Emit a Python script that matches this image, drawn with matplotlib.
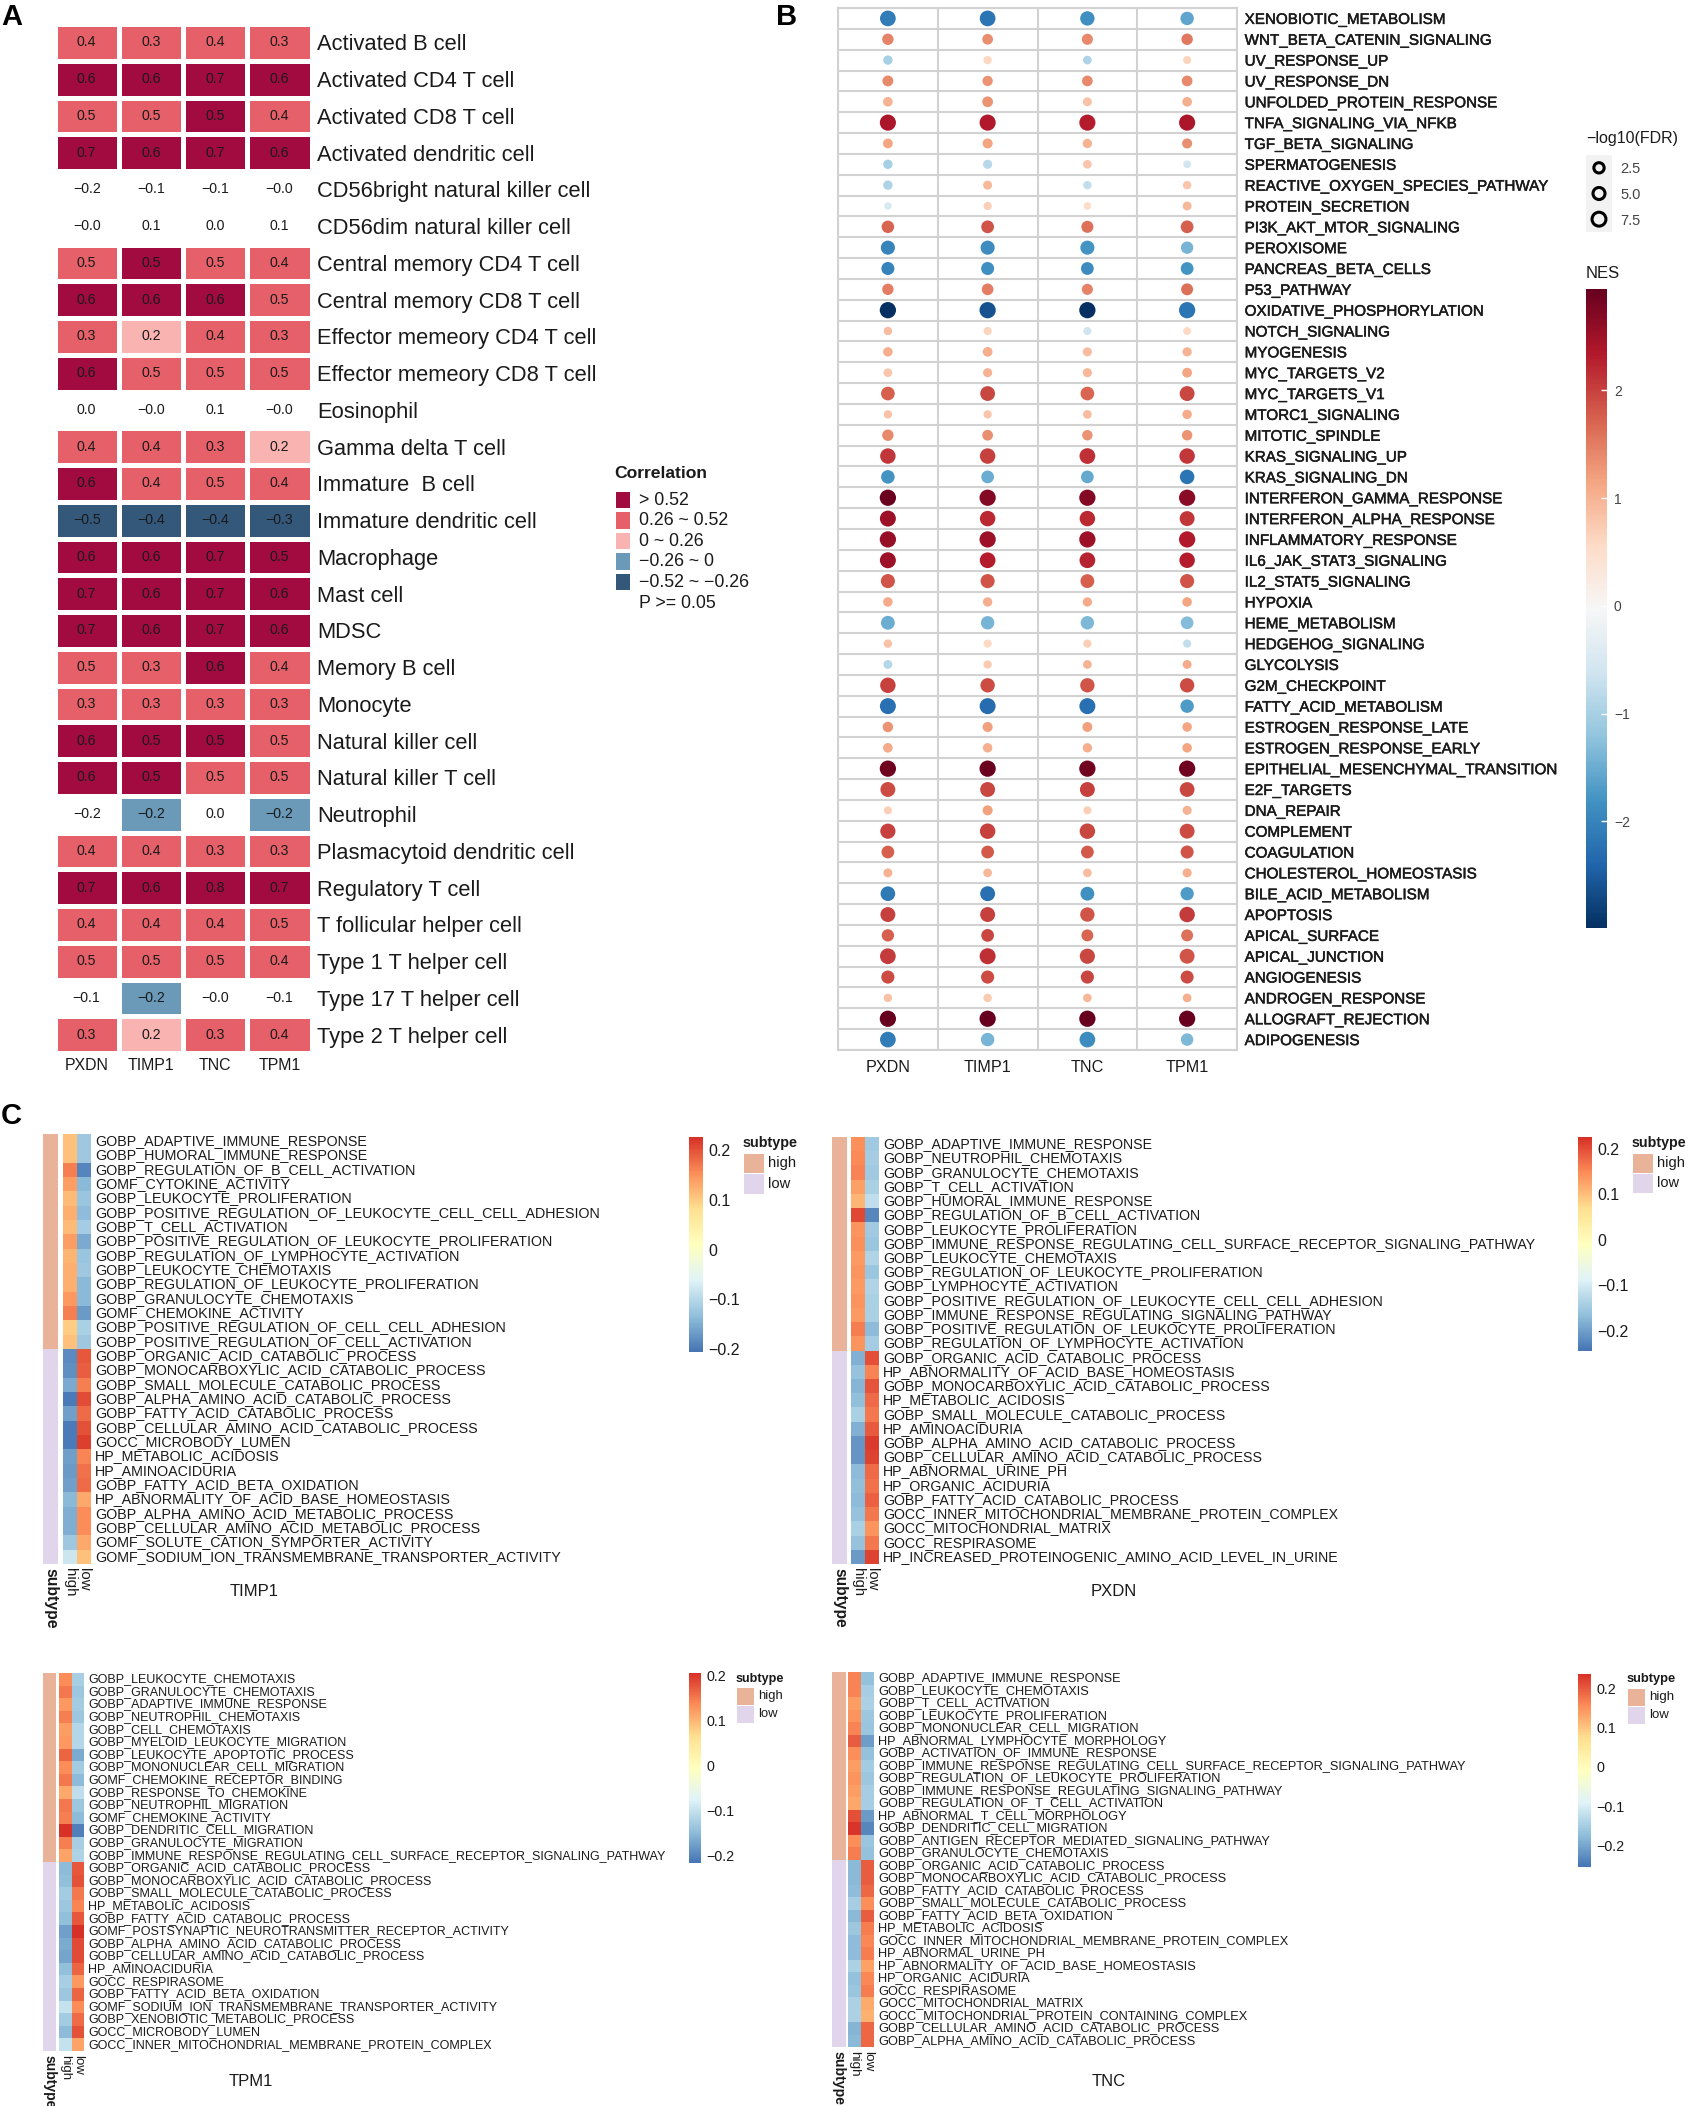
import numpy as np
import matplotlib
matplotlib.use('Agg')
import matplotlib.pyplot as plt
import matplotlib.patheffects as pe
from matplotlib.cm import ScalarMappable
from matplotlib.colors import ListedColormap, LinearSegmentedColormap, Normalize, BoundaryNorm

plt.rcParams['font.family'] = ['Liberation Sans', 'DejaVu Sans']
W, H = 1691, 2106
TEXT = '#1a1a1a'

GENES = ['PXDN', 'TIMP1', 'TNC', 'TPM1']

# ── panel A ──────────────────────────────────────────────────────────────────
CELLS = ['Activated B cell', 'Activated CD4 T cell', 'Activated CD8 T cell', 'Activated dendritic cell',
         'CD56bright natural killer cell', 'CD56dim natural killer cell', 'Central memory CD4 T cell',
         'Central memory CD8 T cell', 'Effector memeory CD4 T cell', 'Effector memeory CD8 T cell',
         'Eosinophil', 'Gamma delta T cell', 'Immature  B cell', 'Immature dendritic cell', 'Macrophage',
         'Mast cell', 'MDSC', 'Memory B cell', 'Monocyte', 'Natural killer cell', 'Natural killer T cell',
         'Neutrophil', 'Plasmacytoid dendritic cell', 'Regulatory T cell', 'T follicular helper cell',
         'Type 1 T helper cell', 'Type 17 T helper cell', 'Type 2 T helper cell']
CORR = [[.4, .3, .4, .3], [.6, .6, .7, .6], [.5, .5, .5, .4], [.7, .6, .7, .6],
        [-.2, -.1, -.1, -0.], [-0., .1, 0., .1], [.5, .5, .5, .4], [.6, .6, .6, .5],
        [.3, .2, .4, .3], [.6, .5, .5, .5], [0., -0., .1, -0.], [.4, .4, .3, .2],
        [.6, .4, .5, .4], [-.5, -.4, -.4, -.3], [.6, .6, .7, .5], [.7, .6, .7, .6],
        [.7, .6, .7, .6], [.5, .3, .6, .4], [.3, .3, .3, .3], [.6, .5, .5, .5],
        [.6, .5, .5, .5], [-.2, -.2, 0., -.2], [.4, .4, .3, .3], [.7, .6, .8, .7],
        [.4, .4, .4, .5], [.5, .5, .5, .4], [-.1, -.2, -0., -.1], [.3, .2, .3, .4]]
# 4 '> 0.52', 3 '0.26 ~ 0.52', 2 '0 ~ 0.26', 1 '-0.26 ~ 0', 0 '-0.52 ~ -0.26', nan P >= 0.05
N = np.nan
CORR_CLASS = [[3, 3, 3, 3], [4, 4, 4, 4], [3, 3, 4, 3], [4, 4, 4, 4],
              [N, N, N, N], [N, N, N, N], [3, 4, 3, 3], [4, 4, 4, 3],
              [3, 2, 3, 3], [4, 3, 3, 3], [N, N, N, N], [3, 3, 3, 2],
              [4, 3, 3, 3], [0, 0, 0, 0], [4, 4, 4, 4], [4, 4, 4, 4],
              [4, 4, 4, 4], [3, 3, 4, 3], [3, 3, 3, 3], [4, 4, 4, 3],
              [4, 4, 3, 3], [N, 1, N, 1], [3, 3, 3, 3], [4, 4, 4, 4],
              [3, 3, 3, 3], [3, 3, 3, 3], [N, 1, N, N], [3, 2, 3, 3]]
CORR_COLORS = ['#33587A', '#6A9AB8', '#F9B4B2', '#E56068', '#A10B40']
CORR_LEGEND = ['> 0.52', '0.26 ~ 0.52', '0 ~ 0.26', '\u22120.26 ~ 0', '\u22120.52 ~ \u22120.26']

# ── panel B ──────────────────────────────────────────────────────────────────
HALLMARKS = ['XENOBIOTIC_METABOLISM', 'WNT_BETA_CATENIN_SIGNALING', 'UV_RESPONSE_UP', 'UV_RESPONSE_DN',
             'UNFOLDED_PROTEIN_RESPONSE', 'TNFA_SIGNALING_VIA_NFKB', 'TGF_BETA_SIGNALING', 'SPERMATOGENESIS',
             'REACTIVE_OXYGEN_SPECIES_PATHWAY', 'PROTEIN_SECRETION', 'PI3K_AKT_MTOR_SIGNALING', 'PEROXISOME',
             'PANCREAS_BETA_CELLS', 'P53_PATHWAY', 'OXIDATIVE_PHOSPHORYLATION', 'NOTCH_SIGNALING', 'MYOGENESIS',
             'MYC_TARGETS_V2', 'MYC_TARGETS_V1', 'MTORC1_SIGNALING', 'MITOTIC_SPINDLE', 'KRAS_SIGNALING_UP',
             'KRAS_SIGNALING_DN', 'INTERFERON_GAMMA_RESPONSE', 'INTERFERON_ALPHA_RESPONSE',
             'INFLAMMATORY_RESPONSE', 'IL6_JAK_STAT3_SIGNALING', 'IL2_STAT5_SIGNALING', 'HYPOXIA',
             'HEME_METABOLISM', 'HEDGEHOG_SIGNALING', 'GLYCOLYSIS', 'G2M_CHECKPOINT', 'FATTY_ACID_METABOLISM',
             'ESTROGEN_RESPONSE_LATE', 'ESTROGEN_RESPONSE_EARLY', 'EPITHELIAL_MESENCHYMAL_TRANSITION',
             'E2F_TARGETS', 'DNA_REPAIR', 'COMPLEMENT', 'COAGULATION', 'CHOLESTEROL_HOMEOSTASIS',
             'BILE_ACID_METABOLISM', 'APOPTOSIS', 'APICAL_SURFACE', 'APICAL_JUNCTION', 'ANGIOGENESIS',
             'ANDROGEN_RESPONSE', 'ALLOGRAFT_REJECTION', 'ADIPOGENESIS']
NES = [[-2.1, -2.2, -1.85, -1.6], [1.45, 1.35, 1.4, 1.55], [-1., .6, -.95, .65], [1.4, 1.3, 1.4, 1.4],
       [1., 1.3, .85, 1.05], [2.4, 2.35, 2.3, 2.4], [1.15, 1.15, 1., 1.35], [-1., -.85, .8, -.6],
       [-.95, .95, -.75, .8], [-.5, .7, .55, .95], [1.7, 1.85, 1.6, 1.75], [-2., -1.9, -1.8, -1.4],
       [-2., -1.85, -1.9, -1.8], [1.5, 1.5, 1.45, 1.6], [-3., -2.6, -3., -2.2], [.9, .65, -.65, .6],
       [1.05, 1.05, .9, 1.], [.8, 1., .95, 1.15], [1.75, 1.95, 1.7, 1.95], [.85, .8, .9, 1.1],
       [1.4, 1.35, 1.3, 1.3], [2.1, 2., 2.15, 2.1], [-1.8, -1.5, -1.55, -2.2], [2.9, 2.7, 2.7, 2.65],
       [2.5, 2.2, 2.2, 2.1], [2.55, 2.5, 2.5, 2.35], [2.5, 2.3, 2.25, 2.3], [1.85, 1.85, 1.75, 1.85],
       [1.1, 1.05, 1.1, 1.15], [-1.5, -1.4, -1.35, -1.3], [.85, .6, .7, -.75], [-.9, .75, 1., 1.1],
       [2., 1.9, 1.85, 1.9], [-2.25, -2.3, -2.25, -1.7], [1.3, 1.2, 1.2, 1.15], [1.1, 1.05, 1.05, 1.15],
       [2.85, 2.9, 2.85, 2.85], [1.9, 1.95, 2., 1.95], [.7, 1.2, .7, 1.], [2., 2., 1.95, 1.9],
       [1.75, 1.8, 1.8, 1.85], [1., .95, .9, 1.05], [-2.15, -2.25, -1.85, -1.7], [2., 2., 1.85, 2.05],
       [1.75, 1.95, 1.7, 1.6], [2.05, 2.15, 1.95, 1.85], [1.9, 1.9, 1.95, 1.9], [.85, .75, .95, 1.05],
       [3., 3., 3., 2.95], [-2.1, -1.4, -1.9, -1.35]]
LOG_FDR = [[7.2, 7.2, 6.2, 5.5], [4., 3.5, 3.8, 4.], [2.5, 1.8, 2., 1.5], [3.6, 3.2, 3.5, 3.5],
           [2.7, 3.5, 2.2, 2.7], [7.5, 7.5, 7.5, 7.5], [2.8, 3., 2.5, 3.], [2.5, 2.3, 2., 1.3],
           [2.5, 2.2, 1.8, 1.8], [1., 1.6, 1.2, 2.1], [4.8, 5., 4.5, 5.], [6., 6., 6., 4.7],
           [5.2, 5.2, 5., 5.], [4., 4.2, 3.8, 4.4], [7.6, 7.6, 7.6, 7.6], [1.8, 1.6, 1.5, 1.4],
           [2.6, 2.8, 2.3, 2.4], [2., 2.3, 2.3, 2.8], [5.7, 6.5, 5.7, 6.6], [1.7, 1.7, 2., 2.5],
           [4., 3.5, 3.3, 3.3], [7., 7., 7.2, 7.], [5.6, 5., 5., 6.3], [7.6, 7.6, 7.6, 7.6],
           [7.4, 7., 7., 6.6], [7.6, 7.6, 7.6, 7.6], [7.4, 7.2, 7.2, 7.], [6., 6., 5.8, 6.],
           [2.6, 2.5, 2.4, 2.6], [5.8, 5.5, 5.5, 5.], [1.8, 1.6, 1.6, 1.6], [2.1, 1.7, 2., 2.1],
           [7., 6.2, 6.2, 6.2], [7.4, 7.4, 7.4, 5.5], [3.3, 3., 2.9, 2.6], [2.7, 2.6, 2.5, 2.6],
           [7.6, 7.6, 7.6, 7.6], [6.6, 6.6, 6.6, 6.5], [1.5, 3., 1.5, 2.3], [6.8, 7., 7., 6.6],
           [5., 5., 5., 5.2], [2.2, 2., 2., 2.3], [6.4, 6.6, 5.8, 5.4], [6.6, 6.6, 6.2, 7.],
           [4.7, 5., 4.4, 4.4], [7.2, 7.4, 6.8, 6.6], [5.3, 5.3, 5.3, 5.2], [1.8, 1.8, 1.9, 2.],
           [7.6, 7.6, 7.6, 7.6], [7.2, 5.5, 7.2, 4.8]]
FDR_BREAKS = [2.5, 5.0, 7.5]
NES_TICKS = [-2, -1, 0, 1, 2]

# ── panel C ──────────────────────────────────────────────────────────────────
TIMP1_TERMS = ['GOBP_ADAPTIVE_IMMUNE_RESPONSE', 'GOBP_HUMORAL_IMMUNE_RESPONSE', 'GOBP_REGULATION_OF_B_CELL_ACTIVATION',
               'GOMF_CYTOKINE_ACTIVITY', 'GOBP_LEUKOCYTE_PROLIFERATION',
               'GOBP_POSITIVE_REGULATION_OF_LEUKOCYTE_CELL_CELL_ADHESION', 'GOBP_T_CELL_ACTIVATION',
               'GOBP_POSITIVE_REGULATION_OF_LEUKOCYTE_PROLIFERATION', 'GOBP_REGULATION_OF_LYMPHOCYTE_ACTIVATION',
               'GOBP_LEUKOCYTE_CHEMOTAXIS', 'GOBP_REGULATION_OF_LEUKOCYTE_PROLIFERATION', 'GOBP_GRANULOCYTE_CHEMOTAXIS',
               'GOMF_CHEMOKINE_ACTIVITY', 'GOBP_POSITIVE_REGULATION_OF_CELL_CELL_ADHESION',
               'GOBP_POSITIVE_REGULATION_OF_CELL_ACTIVATION', 'GOBP_ORGANIC_ACID_CATABOLIC_PROCESS',
               'GOBP_MONOCARBOXYLIC_ACID_CATABOLIC_PROCESS', 'GOBP_SMALL_MOLECULE_CATABOLIC_PROCESS',
               'GOBP_ALPHA_AMINO_ACID_CATABOLIC_PROCESS', 'GOBP_FATTY_ACID_CATABOLIC_PROCESS',
               'GOBP_CELLULAR_AMINO_ACID_CATABOLIC_PROCESS', 'GOCC_MICROBODY_LUMEN', 'HP_METABOLIC_ACIDOSIS',
               'HP_AMINOACIDURIA', 'GOBP_FATTY_ACID_BETA_OXIDATION', 'HP_ABNORMALITY_OF_ACID_BASE_HOMEOSTASIS',
               'GOBP_ALPHA_AMINO_ACID_METABOLIC_PROCESS', 'GOBP_CELLULAR_AMINO_ACID_METABOLIC_PROCESS',
               'GOMF_SOLUTE_CATION_SYMPORTER_ACTIVITY', 'GOMF_SODIUM_ION_TRANSMEMBRANE_TRANSPORTER_ACTIVITY']
TIMP1_HIGH = [.11, .11, .165, .14, .115, .125, .115, .14, .12, .125, .125, .145, .165, .1, .11,
              -.185, -.18, -.155, -.2, -.165, -.2, -.2, -.165, -.17, -.165, -.14, -.15, -.15, -.12, -.08]
TIMP1_LOW = [-.12, -.12, -.19, -.14, -.125, -.135, -.115, -.155, -.125, -.12, -.14, -.14, -.17, -.11, -.12,
             .195, .19, .165, .205, .18, .2, .215, .16, .175, .18, .13, .155, .155, .13, .11]

PXDN_TERMS = ['GOBP_ADAPTIVE_IMMUNE_RESPONSE', 'GOBP_NEUTROPHIL_CHEMOTAXIS', 'GOBP_GRANULOCYTE_CHEMOTAXIS',
              'GOBP_T_CELL_ACTIVATION', 'GOBP_HUMORAL_IMMUNE_RESPONSE', 'GOBP_REGULATION_OF_B_CELL_ACTIVATION',
              'GOBP_LEUKOCYTE_PROLIFERATION', 'GOBP_IMMUNE_RESPONSE_REGULATING_CELL_SURFACE_RECEPTOR_SIGNALING_PATHWAY',
              'GOBP_LEUKOCYTE_CHEMOTAXIS', 'GOBP_REGULATION_OF_LEUKOCYTE_PROLIFERATION', 'GOBP_LYMPHOCYTE_ACTIVATION',
              'GOBP_POSITIVE_REGULATION_OF_LEUKOCYTE_CELL_CELL_ADHESION', 'GOBP_IMMUNE_RESPONSE_REGULATING_SIGNALING_PATHWAY',
              'GOBP_POSITIVE_REGULATION_OF_LEUKOCYTE_PROLIFERATION', 'GOBP_REGULATION_OF_LYMPHOCYTE_ACTIVATION',
              'GOBP_ORGANIC_ACID_CATABOLIC_PROCESS', 'HP_ABNORMALITY_OF_ACID_BASE_HOMEOSTASIS',
              'GOBP_MONOCARBOXYLIC_ACID_CATABOLIC_PROCESS', 'HP_METABOLIC_ACIDOSIS', 'GOBP_SMALL_MOLECULE_CATABOLIC_PROCESS',
              'HP_AMINOACIDURIA', 'GOBP_ALPHA_AMINO_ACID_CATABOLIC_PROCESS', 'GOBP_CELLULAR_AMINO_ACID_CATABOLIC_PROCESS',
              'HP_ABNORMAL_URINE_PH', 'HP_ORGANIC_ACIDURIA', 'GOBP_FATTY_ACID_CATABOLIC_PROCESS',
              'GOCC_INNER_MITOCHONDRIAL_MEMBRANE_PROTEIN_COMPLEX', 'GOCC_MITOCHONDRIAL_MATRIX', 'GOCC_RESPIRASOME',
              'HP_INCREASED_PROTEINOGENIC_AMINO_ACID_LEVEL_IN_URINE']
PXDN_HIGH = [.145, .15, .155, .13, .11, .205, .14, .145, .135, .14, .135, .14, .135, .16, .14,
             -.18, -.16, -.175, -.165, -.14, -.18, -.21, -.21, -.17, -.165, -.17, -.16, -.14, -.16, -.205]
PXDN_LOW = [-.15, -.145, -.15, -.14, -.12, -.225, -.15, -.155, -.135, -.155, -.135, -.14, -.14, -.17, -.145,
            .2, .155, .195, .175, .165, .19, .215, .21, .175, .17, .185, .165, .14, .165, .21]

TPM1_TERMS = ['GOBP_LEUKOCYTE_CHEMOTAXIS', 'GOBP_GRANULOCYTE_CHEMOTAXIS', 'GOBP_ADAPTIVE_IMMUNE_RESPONSE',
              'GOBP_NEUTROPHIL_CHEMOTAXIS', 'GOBP_CELL_CHEMOTAXIS', 'GOBP_MYELOID_LEUKOCYTE_MIGRATION',
              'GOBP_LEUKOCYTE_APOPTOTIC_PROCESS', 'GOBP_MONONUCLEAR_CELL_MIGRATION', 'GOMF_CHEMOKINE_RECEPTOR_BINDING',
              'GOBP_RESPONSE_TO_CHEMOKINE', 'GOBP_NEUTROPHIL_MIGRATION', 'GOMF_CHEMOKINE_ACTIVITY',
              'GOBP_DENDRITIC_CELL_MIGRATION', 'GOBP_GRANULOCYTE_MIGRATION',
              'GOBP_IMMUNE_RESPONSE_REGULATING_CELL_SURFACE_RECEPTOR_SIGNALING_PATHWAY',
              'GOBP_ORGANIC_ACID_CATABOLIC_PROCESS', 'GOBP_MONOCARBOXYLIC_ACID_CATABOLIC_PROCESS',
              'GOBP_SMALL_MOLECULE_CATABOLIC_PROCESS', 'HP_METABOLIC_ACIDOSIS', 'GOBP_FATTY_ACID_CATABOLIC_PROCESS',
              'GOMF_POSTSYNAPTIC_NEUROTRANSMITTER_RECEPTOR_ACTIVITY', 'GOBP_ALPHA_AMINO_ACID_CATABOLIC_PROCESS',
              'GOBP_CELLULAR_AMINO_ACID_CATABOLIC_PROCESS', 'HP_AMINOACIDURIA', 'GOCC_RESPIRASOME',
              'GOBP_FATTY_ACID_BETA_OXIDATION', 'GOMF_SODIUM_ION_TRANSMEMBRANE_TRANSPORTER_ACTIVITY',
              'GOBP_XENOBIOTIC_METABOLIC_PROCESS', 'GOCC_MICROBODY_LUMEN',
              'GOCC_INNER_MITOCHONDRIAL_MEMBRANE_PROTEIN_COMPLEX']
TPM1_HIGH = [.135, .15, .125, .145, .12, .125, .165, .135, .15, .11, .15, .145, .205, .145, .115,
             -.15, -.145, -.13, -.135, -.145, -.175, -.165, -.17, -.145, -.125, -.135, -.1, -.13, -.15, -.1]
TPM1_LOW = [-.125, -.135, -.13, -.135, -.115, -.115, -.165, -.13, -.15, -.105, -.135, -.15, -.205, -.125, -.12,
            .175, .18, .15, .14, .175, .205, .185, .185, .165, .125, .165, .135, .16, .18, .115]

TNC_TERMS = ['GOBP_ADAPTIVE_IMMUNE_RESPONSE', 'GOBP_LEUKOCYTE_CHEMOTAXIS', 'GOBP_T_CELL_ACTIVATION',
             'GOBP_LEUKOCYTE_PROLIFERATION', 'GOBP_MONONUCLEAR_CELL_MIGRATION', 'HP_ABNORMAL_LYMPHOCYTE_MORPHOLOGY',
             'GOBP_ACTIVATION_OF_IMMUNE_RESPONSE', 'GOBP_IMMUNE_RESPONSE_REGULATING_CELL_SURFACE_RECEPTOR_SIGNALING_PATHWAY',
             'GOBP_REGULATION_OF_LEUKOCYTE_PROLIFERATION', 'GOBP_IMMUNE_RESPONSE_REGULATING_SIGNALING_PATHWAY',
             'GOBP_REGULATION_OF_T_CELL_ACTIVATION', 'HP_ABNORMAL_T_CELL_MORPHOLOGY', 'GOBP_DENDRITIC_CELL_MIGRATION',
             'GOBP_ANTIGEN_RECEPTOR_MEDIATED_SIGNALING_PATHWAY', 'GOBP_GRANULOCYTE_CHEMOTAXIS',
             'GOBP_ORGANIC_ACID_CATABOLIC_PROCESS', 'GOBP_MONOCARBOXYLIC_ACID_CATABOLIC_PROCESS',
             'GOBP_FATTY_ACID_CATABOLIC_PROCESS', 'GOBP_SMALL_MOLECULE_CATABOLIC_PROCESS', 'GOBP_FATTY_ACID_BETA_OXIDATION',
             'HP_METABOLIC_ACIDOSIS', 'GOCC_INNER_MITOCHONDRIAL_MEMBRANE_PROTEIN_COMPLEX', 'HP_ABNORMAL_URINE_PH',
             'HP_ABNORMALITY_OF_ACID_BASE_HOMEOSTASIS', 'HP_ORGANIC_ACIDURIA', 'GOCC_RESPIRASOME',
             'GOCC_MITOCHONDRIAL_MATRIX', 'GOCC_MITOCHONDRIAL_PROTEIN_CONTAINING_COMPLEX',
             'GOBP_CELLULAR_AMINO_ACID_CATABOLIC_PROCESS', 'GOBP_ALPHA_AMINO_ACID_CATABOLIC_PROCESS']
TNC_HIGH = [.165, .165, .14, .15, .165, .2, .155, .14, .15, .14, .13, .21, .235, .155, .17,
            -.18, -.18, -.175, -.15, -.18, -.16, -.175, -.175, -.145, -.17, -.165, -.145, -.145, -.185, -.18]
TNC_LOW = [-.17, -.15, -.145, -.16, -.165, -.21, -.17, -.155, -.16, -.15, -.15, -.215, -.235, -.165, -.17,
           .2, .2, .19, .155, .2, .17, .16, .17, .135, .16, .17, .125, .12, .19, .19]

SUBTYPE = ['high'] * 15 + ['low'] * 15
CBAR_TICKS = [-0.2, -0.1, 0, 0.1, 0.2]
SUB_COLORS = {'high': '#E8B398', 'low': '#E0D5EA'}
RDYLBU = LinearSegmentedColormap.from_list('rdylbu', ['#4575B4', '#91BFDB', '#E0F3F8', '#FFFFBF',
                                                      '#FEE090', '#FC8D59', '#D73027'])


def fmt(v):
    return f'{v:g}'.replace('-', '\u2212')


fig = plt.figure(figsize=(W / 100, H / 100), dpi=100, facecolor='white')


def add_ax(x0, y0, x1, y1):
    # pixel box, y measured from the top of the picture
    return fig.add_axes([x0 / W, 1 - y1 / H, (x1 - x0) / W, (y1 - y0) / H])


def txt(x, y, s, **kw):
    kw.setdefault('color', TEXT)
    kw.setdefault('va', 'center')
    return fig.text(x / W, 1 - y / H, s, **kw)


for letter, x, y in [('A', 1, 17), ('B', 776, 17), ('C', 1, 1116)]:
    txt(x, y, letter, fontsize=21, fontweight='bold', color='black')

# ── A: correlation heatmap ───────────────────────────────────────────────────
ax = add_ax(54.5, 24, 311.5, 1053)
corr = np.array(CORR)
klass = np.ma.masked_invalid(np.array(CORR_CLASS, dtype=float))
ax.pcolormesh(klass, cmap=ListedColormap(CORR_COLORS), norm=BoundaryNorm(np.arange(-.5, 5), 5),
              edgecolors='white', linewidth=2.4)
ax.set_xlim(0, 4)
ax.set_ylim(len(CELLS), 0)
for i in range(corr.shape[0]):
    for j in range(corr.shape[1]):
        ax.text(j + .5, i + .5, f'{corr[i, j]:.1f}'.replace('-', '\u2212'), ha='center', va='center',
                fontsize=10.2, color=TEXT)
ax.set_xticks(np.arange(4) + .5, GENES, fontsize=11.4, color=TEXT)
ax.yaxis.tick_right()
ax.set_yticks(np.arange(len(CELLS)) + .5, CELLS, fontsize=15.75, color=TEXT)
ax.tick_params(length=0, pad=4)
ax.tick_params(axis='x', pad=3.5)
for s in ax.spines.values():
    s.set_visible(False)

txt(614, 473, 'Correlation', fontsize=12.6, fontweight='bold')
leg = add_ax(614, 490, 632, 592)
leg.pcolormesh(np.arange(5)[::-1].reshape(-1, 1), cmap=ListedColormap(CORR_COLORS), edgecolors='white', linewidth=1.6)
leg.set_ylim(5, 0)
leg.axis('off')
for i, lab in enumerate(CORR_LEGEND):
    txt(639, 500.5 + i * 20.4, lab, fontsize=12.8)
txt(639, 603, 'P >= 0.05', fontsize=12.8)

# ── B: dot plot ──────────────────────────────────────────────────────────────
ax = add_ax(838, 8, 1237, 1050)
nes = np.array(NES)
logfdr = np.array(LOG_FDR)
nes_norm = Normalize(-2.99, 2.94)
cols, rows = np.meshgrid(np.arange(4), np.arange(len(HALLMARKS)))


def dot_area(v):
    # ggplot-like size scale: diameter in px -> area in pt^2
    return ((6 + 1.35 * np.asarray(v)) * .72) ** 2


ax.scatter(cols.ravel(), rows.ravel(), s=dot_area(logfdr.ravel()), c=nes.ravel(), cmap='RdBu_r', norm=nes_norm,
           linewidths=0, zorder=3)
ax.set_xlim(-.5, 3.5)
ax.set_ylim(len(HALLMARKS) - .5, -.5)
ax.set_xticks(np.arange(4), GENES, fontsize=11.6, color=TEXT)
ax.yaxis.tick_right()
ax.set_yticks(np.arange(len(HALLMARKS)), HALLMARKS, fontsize=10.95, color=TEXT)
for t in ax.get_yticklabels():
    t.set_path_effects([pe.withStroke(linewidth=.35, foreground=TEXT)])
ax.set_xticks(np.arange(5) - .5, minor=True)
ax.set_yticks(np.arange(51) - .5, minor=True)
ax.grid(which='minor', color='#D2D2D2', lw=1.5, zorder=0)
ax.tick_params(which='both', length=0)
ax.tick_params(axis='y', pad=5.5)
ax.tick_params(axis='x', pad=7)
for s in ax.spines.values():
    s.set_color('#D2D2D2')
    s.set_linewidth(1.5)

txt(1586, 139, '\u2212log10(FDR)', fontsize=11.5)
key = add_ax(1586, 155, 1612, 232)
key.set_facecolor('#F2F2F2')
key.scatter([0] * 3, FDR_BREAKS, s=[55, 75, 100], facecolors='none', edgecolors='black', linewidths=2.2)
key.set_xlim(-1, 1)
key.set_ylim(8.75, 1.25)
key.set_xticks([])
key.yaxis.tick_right()
key.set_yticks(FDR_BREAKS, [f'{v:.1f}' for v in FDR_BREAKS], fontsize=10.5, color='#444444')
key.tick_params(length=0, pad=6)
for s in key.spines.values():
    s.set_visible(False)

txt(1586, 273, 'NES', fontsize=12)
cax = add_ax(1586, 289, 1607, 928)
cb = fig.colorbar(ScalarMappable(nes_norm, 'RdBu_r'), cax=cax)
cb.outline.set_visible(False)
cb.set_ticks(NES_TICKS, labels=[fmt(v) for v in NES_TICKS])
cax.tick_params(length=4, width=1, color='white', direction='in', labelsize=10, labelcolor='#444444', pad=5)


# ── C: subtype heatmaps ──────────────────────────────────────────────────────
def subtype_heatmap(terms, high, low, title, box, cbar, vlim, leg_x, leg_y, fs):
    sub_x0, sub_x1, hi_x0, hi_x1, lo_x1, y0, y1, label_x = box
    # annotation strip
    a = add_ax(sub_x0, y0, sub_x1, y1)
    codes = np.array([[0 if s == 'high' else 1] for s in SUBTYPE])
    a.pcolormesh(codes, cmap=ListedColormap([SUB_COLORS['high'], SUB_COLORS['low']]), vmin=0, vmax=1)
    a.set_ylim(len(terms), 0)
    a.set_yticks([])
    a.set_xticks([.5], ['subtype'], rotation=270, fontsize=fs + 1, fontweight='bold', color=TEXT)
    a.tick_params(length=0, pad=3)
    for s in a.spines.values():
        s.set_visible(False)
    # values
    m = add_ax(hi_x0, y0, lo_x1, y1)
    norm = Normalize(*vlim)
    m.pcolormesh(np.column_stack([high, low]), cmap=RDYLBU, norm=norm)
    m.set_ylim(len(terms), 0)
    m.set_xticks([.5, 1.5], ['high', 'low'], rotation=270, fontsize=fs + .5, color=TEXT)
    m.yaxis.tick_right()
    m.set_yticks(np.arange(len(terms)) + .5, terms, fontsize=fs, color=TEXT, va='center')
    m.tick_params(length=0)
    m.tick_params(axis='x', pad=3)
    m.tick_params(axis='y', pad=(label_x - lo_x1) * .72)
    for s in m.spines.values():
        s.set_visible(False)
    txt((title[1]), title[2], title[0], fontsize=12, ha='center')
    # colour bar
    cx0, cx1, cy0, cy1 = cbar
    c = add_ax(cx0, cy0, cx1, cy1)
    b = fig.colorbar(ScalarMappable(norm, RDYLBU), cax=c)
    b.outline.set_visible(False)
    b.set_ticks(CBAR_TICKS, labels=[fmt(v) for v in CBAR_TICKS])
    c.tick_params(length=0, labelsize=fs + 1.2, labelcolor=TEXT, pad=4)
    # subtype key
    step = (leg_y[2] - leg_y[1])
    txt(leg_x[0], leg_y[0], 'subtype', fontsize=fs + .1, fontweight='bold')
    k = add_ax(leg_x[0], leg_y[1], leg_x[1], leg_y[2] + step)
    k.pcolormesh(np.array([[0], [1]]), cmap=ListedColormap([SUB_COLORS['high'], SUB_COLORS['low']]),
                 edgecolors='white', linewidth=.6)
    k.set_ylim(2, 0)
    k.axis('off')
    txt(leg_x[1] + 4, leg_y[1] + step / 2, 'high', fontsize=fs + .3)
    txt(leg_x[1] + 4, leg_y[2] + step / 2, 'low', fontsize=fs + .3)


subtype_heatmap(TIMP1_TERMS, TIMP1_HIGH, TIMP1_LOW, ('TIMP1', 254, 1591),
                (43.4, 58.2, 62.5, 76.2, 91, 1134, 1564, 95), (689, 703, 1137, 1352), (-.206, .227),
                (743, 764), (1143, 1153, 1173.4), 10.3)
subtype_heatmap(PXDN_TERMS, PXDN_HIGH, PXDN_LOW, ('PXDN', 1114, 1591),
                (832, 847, 850.5, 864.4, 879, 1137, 1564, 883), (1578, 1592, 1137, 1351), (-.244, .226),
                (1632, 1653), (1143, 1153, 1173), 10.2)
subtype_heatmap(TPM1_TERMS, TPM1_HIGH, TPM1_LOW, ('TPM1', 251, 2082),
                (43, 55.6, 59, 71.5, 84, 1673, 2051, 88), (689, 701, 1673, 1863), (-.216, .205),
                (736, 754), (1679, 1687, 1705), 9.03)
subtype_heatmap(TNC_TERMS, TNC_HIGH, TNC_LOW, ('TNC', 1109, 2082),
                (832, 845.5, 848, 861, 874.4, 1672, 2047, 878), (1578, 1591, 1673.5, 1867), (-.256, .239),
                (1627, 1645), (1679, 1688, 1706), 9.2)

fig.savefig('out.png', dpi=100, facecolor='white')
plt.close(fig)
